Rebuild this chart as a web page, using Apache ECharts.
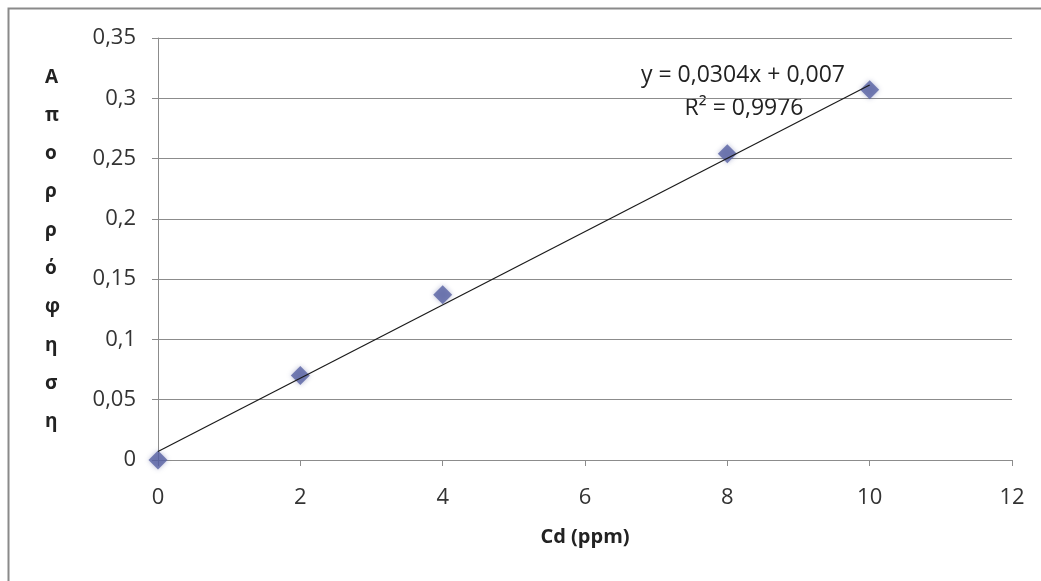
<!DOCTYPE html>
<html>
<head>
<meta charset="utf-8">
<script src="https://cdn.jsdelivr.net/npm/echarts@6/dist/echarts.min.js"></script>
<style>html,body{margin:0;padding:0;background:#fff}#c{width:1041px;height:581px}</style>
</head>
<body>
<div id="c"></div>
<script>
const xValues = [0, 2, 4, 8, 10];
const yValues = [0, 0.070, 0.137, 0.254, 0.307];
const slope = 0.0304;
const intercept = 0.007;
const trendX = [0, 10];
const equationText = 'y = 0,0304x + 0,007';
const r2Text = 'R² = 0,9976';
const yTitle = 'Απορρόφηση';
const xTitle = 'Cd (ppm)';

const points = xValues.map((x, i) => [x, yValues[i]]);
const trend = trendX.map(x => [x, slope * x + intercept]);
const fmt = v => String(+v.toFixed(2)).replace('.', ',');
const font = '"Open Sans", "Liberation Sans", sans-serif';

const chart = echarts.init(document.getElementById('c'));
chart.setOption({
  backgroundColor: '#fff',
  animation: false,
  grid: {left: 158, right: 29, top: 38, bottom: 121, containLabel: false},
  xAxis: {
    type: 'value', min: 0, max: 12, interval: 2,
    name: xTitle, nameLocation: 'middle', nameGap: 67,
    nameTextStyle: {fontFamily: font, fontSize: 20, fontWeight: 'bold', color: '#222'},
    axisLine: {show: true, onZero: false, lineStyle: {color: '#8c8c8c', width: 1}},
    axisTick: {show: true, length: 6, lineStyle: {color: '#8c8c8c'}},
    axisLabel: {fontFamily: font, fontSize: 22, color: '#333', margin: 27, formatter: fmt},
    splitLine: {show: false}
  },
  yAxis: {
    type: 'value', min: 0, max: 0.35, interval: 0.05,
    axisLine: {show: true, onZero: false, lineStyle: {color: '#8c8c8c', width: 1}},
    axisTick: {show: true, length: 6, lineStyle: {color: '#8c8c8c'}},
    axisLabel: {fontFamily: font, fontSize: 22, color: '#333', margin: 22, formatter: fmt},
    splitLine: {show: true, lineStyle: {color: '#8c8c8c', width: 1}}
  },
  graphic: [
    {type: 'rect', silent: true, z: -1, shape: {x: 8.5, y: 8.5, width: 1100, height: 600},
     style: {fill: 'none', stroke: '#8a8a8a', lineWidth: 2}},
    {type: 'text', left: 45, top: 58, style: {
      text: yTitle.split('').join('\n'), font: 'bold 19px ' + font, fill: '#222',
      lineHeight: 38.3, align: 'center', width: 22}},
    {type: 'text', x: 743, y: 75, style: {text: equationText, font: '23px ' + font, fill: '#222',
      align: 'center', verticalAlign: 'middle'}},
    {type: 'text', x: 744, y: 108, style: {text: r2Text, font: '23px ' + font, fill: '#222',
      align: 'center', verticalAlign: 'middle'}}
  ],
  series: [
    {type: 'line', data: trend, symbol: 'none', z: 3,
     lineStyle: {color: '#1a1a1a', width: 1.2}},
    {type: 'scatter', data: points, symbol: 'diamond', symbolSize: 19, z: 2,
     itemStyle: {color: '#5862a3', shadowColor: 'rgba(60,70,140,0.45)', shadowBlur: 5}}
  ]
});
</script>
</body>
</html>
